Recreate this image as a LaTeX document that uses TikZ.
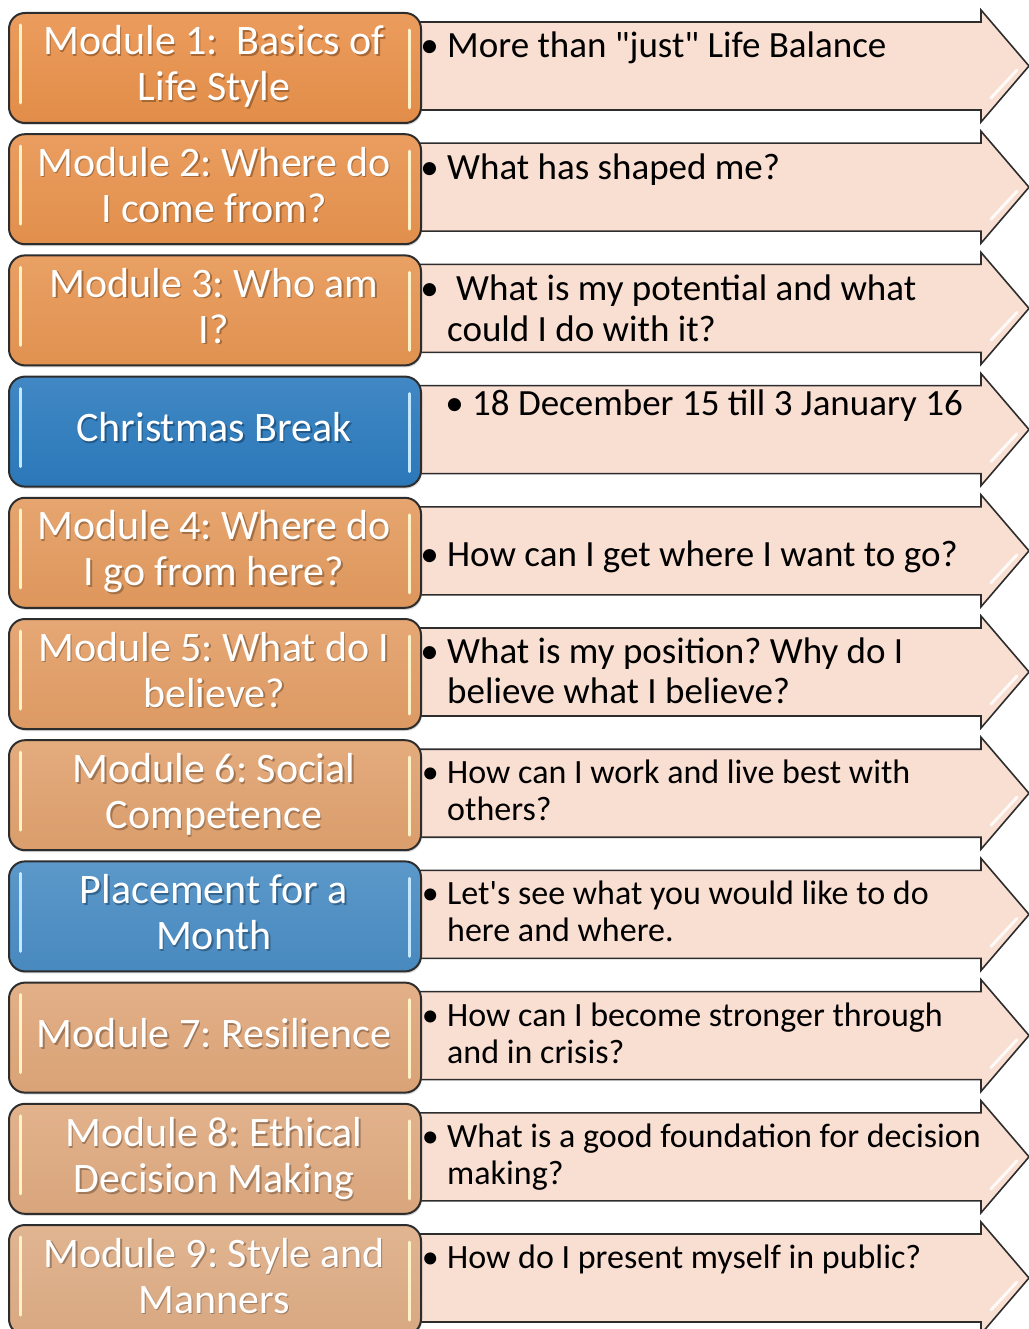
\documentclass[tikz,border=0pt]{standalone}
\usepackage{fontspec}
\setmainfont{Carlito}
\usetikzlibrary{shadows}
\frenchspacing

\definecolor{arrowfill}{RGB}{249,222,210}
\definecolor{edgegray}{RGB}{45,45,45}
\definecolor{hlwarm}{RGB}{255,242,200}
\definecolor{hlcool}{RGB}{195,232,255}
\definecolor{c0}{RGB}{233,145,75}
\definecolor{c1}{RGB}{232,147,78}
\definecolor{c2}{RGB}{231,150,83}
\definecolor{c3}{RGB}{44,123,190}
\definecolor{c4}{RGB}{228,155,95}
\definecolor{c5}{RGB}{227,158,102}
\definecolor{c6}{RGB}{225,162,111}
\definecolor{c7}{RGB}{74,141,196}
\definecolor{c8}{RGB}{224,167,122}
\definecolor{c9}{RGB}{223,170,128}
\definecolor{c10}{RGB}{222,173,133}

\tikzset{
  modbox/.style={draw=edgegray, line width=2pt, rounded corners=16pt,
    minimum width=412pt, minimum height=110pt, inner sep=0pt, anchor=north west,
    drop shadow={opacity=0.3, shadow xshift=1pt, shadow yshift=-2pt}},
  boxtext/.style={text=white, inner sep=0pt, anchor=base,
    font=\fontsize{42}{46}\selectfont},
  pointtext/.style={text=black, inner sep=0pt, anchor=base west},
  bigpt/.style={font=\fontsize{37}{40.5}\selectfont},
  smallpt/.style={font=\fontsize{34}{37.5}\selectfont},
  arrowshape/.style={fill=arrowfill, draw=edgegray, line width=1.6pt, line join=miter},
  gleam/.style={line width=3pt, line cap=round},
}

% white label with a soft darker copy underneath
\newcommand\btext[2]{%
  \makebox[0pt][l]{\raisebox{-1.5pt}{\hspace{1.5pt}\textcolor{#1!72!black}{\parbox[t]{420pt}{\centering #2}}}}%
  \parbox[t]{420pt}{\centering #2}}
% bulleted text block, baseline at its first line
\newcommand\ptext[1]{\parbox[t]{580pt}{\raggedright\leavevmode #1}}
\newcommand\dotmark{\llap{\textbullet\hspace{8.5pt}}}

% one row: arrow behind, rounded module box in front
\newcommand\modrow[4]{%
  \pgfmathsetmacro\rt{12+#1*121.2}
  \path[arrowshape] (405,\rt+10) -- (981,\rt+10) -- (981,\rt-2) -- (1029,\rt+54)
        -- (981,\rt+110) -- (981,\rt+98) -- (405,\rt+98) -- cycle;
  \draw[gleam, white, opacity=0.85] (991,\rt+86) -- (1017,\rt+58);
  \node[modbox, top color=#3!90!white, bottom color=#3!97!black] (#2) at (8,\rt) {};
  \draw[gleam, #4] (20,\rt+13) -- (20,\rt+91);
  \draw[gleam, #4] (409,\rt+18) -- (409,\rt+96);
}

\begin{document}
\begin{tikzpicture}[x=1pt, y=-1pt]
\useasboundingbox (0,0) rectangle (1028,1329);

\modrow{0}{m1}{c0}{hlwarm}
\modrow{1}{m2}{c1}{hlwarm}
\modrow{2}{m3}{c2}{hlwarm}
\modrow{3}{xmas}{c3}{hlcool}
\modrow{4}{m4}{c4}{hlwarm}
\modrow{5}{m5}{c5}{hlwarm}
\modrow{6}{m6}{c6}{hlwarm}
\modrow{7}{place}{c7}{hlcool}
\modrow{8}{m7}{c8}{hlwarm}
\modrow{9}{m8}{c9}{hlwarm}
\modrow{10}{m9}{c10}{hlwarm}

% module titles
\node[boxtext] (m1t)    at (214,12+43)         {\btext{c0}{Module 1:~ Basics of\\Life Style}};
\node[boxtext] (m2t)    at (214,133.2+43)      {\btext{c1}{Module 2: Where do\\I come from?}};
\node[boxtext] (m3t)    at (214,254.4+43)      {\btext{c2}{Module 3: Who am\\I?}};
\node[boxtext] (xmast)  at (214,375.6+66)      {\btext{c3}{Christmas Break}};
\node[boxtext] (m4t)    at (214,496.8+43)      {\btext{c4}{Module 4: Where do\\I go from here?}};
\node[boxtext] (m5t)    at (214,618+43)        {\btext{c5}{Module 5: What do I\\believe?}};
\node[boxtext] (m6t)    at (214,739.2+43.5)    {\btext{c6}{Module 6: Social\\Competence}};
\node[boxtext] (placet) at (214,860.4+43.5)    {\btext{c7}{Placement for a\\Month}};
\node[boxtext] (m7t)    at (214,981.6+66)      {\btext{c8}{Module 7: Resilience}};
\node[boxtext] (m8t)    at (214,1102.8+44)     {\btext{c9}{Module 8: Ethical\\Decision Making}};
\node[boxtext] (m9t)    at (214,1224+43)       {\btext{c10}{Module 9: Style and\\Manners}};

% guiding questions
\node[pointtext, bigpt] (q1) at (447,58)
  {\ptext{\dotmark More than \textquotedbl just\textquotedbl{} Life Balance}};
\node[pointtext, bigpt] (q2) at (447,180)
  {\ptext{\dotmark What has shaped me?}};
\node[pointtext, bigpt] (q3) at (447,300.5)
  {\ptext{\dotmark\hspace{9pt}What is my potential and what\\could I do with it?}};
\node[pointtext, bigpt] (q4) at (472,415)
  {\ptext{\dotmark 18 December 15 till 3 January 16}};
\node[pointtext, bigpt] (q5) at (447,566)
  {\ptext{\dotmark How can I get where I want to go?}};
\node[pointtext, bigpt] (q6) at (447,663)
  {\ptext{\dotmark What is my position? Why do I\\believe what I believe?}};
\node[pointtext, smallpt] (q7) at (447,783)
  {\ptext{\dotmark How can I work and live best with\\others?}};
\node[pointtext, smallpt] (q8) at (447,904)
  {\ptext{\dotmark Let\textquotesingle s see what you would like to do\\here and where.}};
\node[pointtext, smallpt] (q9) at (447,1026)
  {\ptext{\dotmark How can I become stronger through\\and in crisis?}};
\node[pointtext, smallpt] (q10) at (447,1147)
  {\ptext{\dotmark What is a good foundation for decision\\making?}};
\node[pointtext, smallpt] (q11) at (447,1268)
  {\ptext{\dotmark How do I present myself in public?}};
\end{tikzpicture}
\end{document}
